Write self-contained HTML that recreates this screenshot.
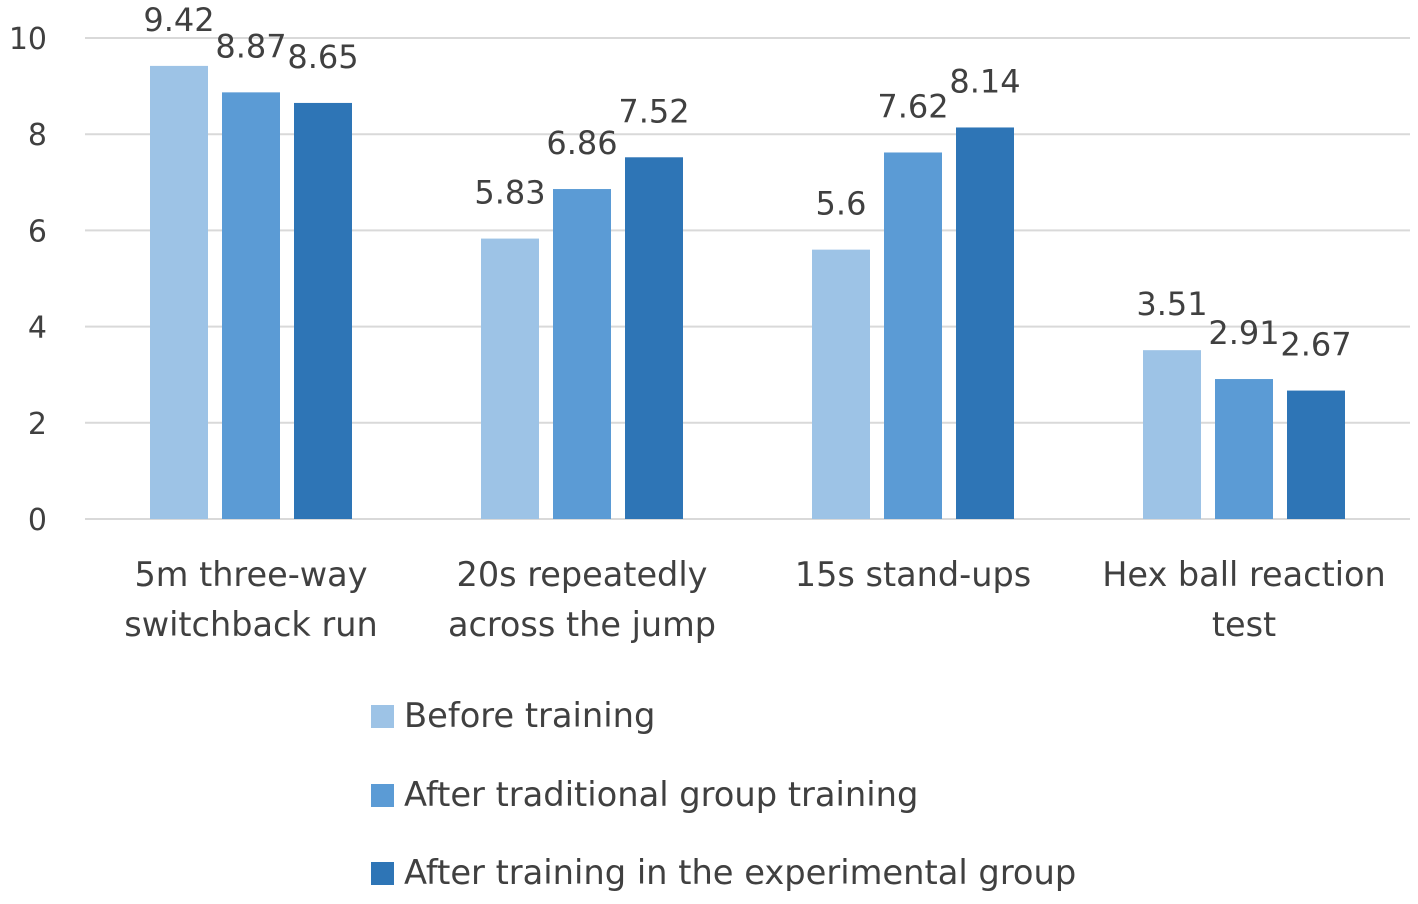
<!DOCTYPE html>
<html><head><meta charset="utf-8"><style>
body{margin:0;background:#fff}
svg text{font-family:"DejaVu Sans","Liberation Sans",sans-serif;fill:#404040}
</style></head><body>
<svg width="1418" height="899" id="chart">
</svg>
<script>
const categories=[["5m three-way","switchback run"],["20s repeatedly","across the jump"],["15s stand-ups"],["Hex ball reaction","test"]];
const seriesNames=["Before training","After traditional group training","After training in the experimental group"];
const before=[9.42,5.83,5.6,3.51];
const traditional=[8.87,6.86,7.62,2.91];
const experimental=[8.65,7.52,8.14,2.67];
const yTicks=[0,2,4,6,8,10];
const series=[before,traditional,experimental];
const colors=["#9DC3E6","#5B9BD5","#2E75B6"];
const svg=document.getElementById('chart');
const NS="http://www.w3.org/2000/svg";
const y=v=>519-v*48.1;
const xc=i=>251+i*331;
function mk(t,a){const e=document.createElementNS(NS,t);for(const k in a)e.setAttribute(k,a[k]);svg.appendChild(e);return e;}
yTicks.forEach(t=>{
 const l=mk('line',{x1:85,x2:1410,y1:y(t),y2:y(t),stroke:'#d9d9d9','stroke-width':2});
 
 
 const tx=mk('text',{x:47,y:y(t)+11,'font-size':30,'text-anchor':'end'});tx.textContent=t;
 
 
});
series.forEach((s,si)=>{
 s.forEach((v,i)=>{
  const cx=xc(i)+(si-1)*72;
  const r=mk('rect',{x:cx-29,y:y(v),width:58,height:519-y(v),fill:colors[si]});
  
  
  const t=mk('text',{x:cx,y:y(v)-35,'font-size':32,'text-anchor':'middle'});t.textContent=v;
  
  
 });
});
categories.forEach((c,i)=>{
 c.forEach((line,j)=>{
  const t=mk('text',{x:xc(i),y:586+j*50,'font-size':33.5,'text-anchor':'middle'});t.textContent=line;
  
  
 });
});
seriesNames.forEach((n,i)=>{
 const yy=[716,795,873][i];
 const r=mk('rect',{x:371,y:yy-11,width:23,height:23,fill:colors[i]});
 
 
 const t=mk('text',{x:404,y:yy+11,'font-size':33.7});t.textContent=n;
 
 
});
</script>
</body></html>
